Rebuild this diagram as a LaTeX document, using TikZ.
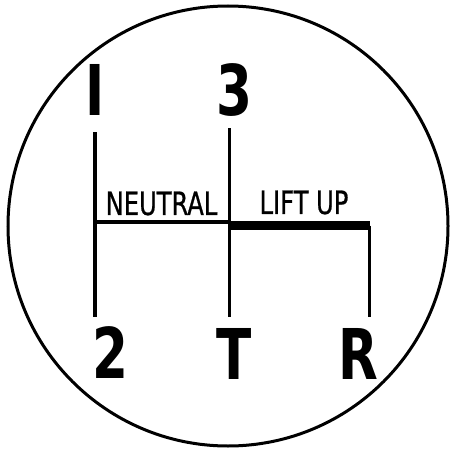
\documentclass[tikz,border=0pt]{standalone}
\usepackage{fontspec}
\setsansfont{DejaVu Sans Condensed}
\newfontfamily\wordfont[FakeBold=0.8]{DejaVu Sans Condensed}
\usepackage{tikz}
\usetikzlibrary{positioning}

\begin{document}
\begin{tikzpicture}[
    x=1pt,y=-1pt,
    gear/.style={font=\sffamily\bfseries\fontsize{70}{70}\selectfont,inner sep=0pt,xscale=0.82,transform shape},
    word/.style={font=\wordfont\fontsize{32}{32}\selectfont,inner sep=0pt,xscale=0.84,transform shape},
    gate/.style={line width=3.5pt},
    lift/.style={line width=9.5pt,line join=round}
]
    \useasboundingbox (0,0) rectangle (451,452);

    % Knob outline
    \node[circle,draw,line width=3pt,minimum size=440pt,inner sep=0pt] (knob) at (228,226) {};

    % Gear numbers
    \node[gear] (g1) at (95,90) {I};
    \node[gear] (g3) at (234,90) {3};
    \node[gear] (g2) at (110,353) {2};
    \node[gear] (gT) at (234,354) {T};
    \node[gear] (gR) at (358,354) {R};

    % Gate ends
    \coordinate (top1) at (95,132);
    \coordinate (bot2) at (95,317);
    \coordinate (top3) at (229.5,128);
    \coordinate (botT) at (229.5,317);
    \coordinate (midL) at (95,222);
    \coordinate (midC) at (229.5,222);
    \coordinate (liftL) at (229.5,225.5);
    \coordinate (liftR) at (369.5,225.5);
    \coordinate (botR) at (369.5,317);

    % Gate
    \draw[gate] (top1) -- (bot2);
    \draw[gate] (top3) -- (botT);
    \draw[gate] (midL) -- (midC);
    \draw[lift] (liftL) -- (liftR);
    \draw[gate] (liftR) -- (botR);

    % Labels
    \node[word] (neutral) at (161.5,203.5) {NEUTRAL};
    \node[word] (liftup) at (304,202.5) {LIFT UP};
\end{tikzpicture}
\end{document}
